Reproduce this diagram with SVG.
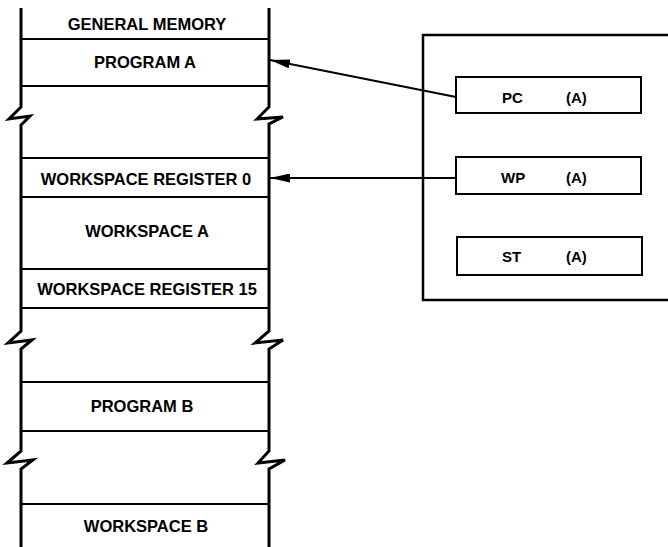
<svg xmlns="http://www.w3.org/2000/svg" width="668" height="547" viewBox="0 0 668 547">
<style>
.col{fill:none;stroke:#000;stroke-width:3;stroke-linejoin:miter}
.hl{stroke:#000;stroke-width:2}
.box{fill:#fff;stroke:#000;stroke-width:2}
.frame{fill:none;stroke:#000;stroke-width:2.5}
.t{font-family:"Liberation Sans",Arial,sans-serif;font-weight:bold;font-size:16.5px;fill:#000;text-anchor:middle}
.r{font-family:"Liberation Sans",Arial,sans-serif;font-weight:bold;font-size:15px;fill:#000}
.conn{stroke:#000;stroke-width:1.8;fill:none}
</style>
<defs>
<marker id="ah" markerUnits="userSpaceOnUse" viewBox="0 0 20 9" markerWidth="20" markerHeight="9" refX="20" refY="4.5" orient="auto">
<path d="M0,0 L20,4.5 L0,9 z" fill="#000"/>
</marker>
</defs>
<rect width="668" height="547" fill="#fff"/>
<g id="memory">
<path class="col" d="M21,8 V107 L9,119 L30,116 L21,125 V331 L8,343 L32,340 L21,349 V451 L7,463 L33,460 L21,469 V547"/>
<path class="col" d="M269,8 V107 L257,119 L283,117 L269,124 V331 L255,343 L283,340 L269,349 V451 L258,463 L285,460 L269,469 V547"/>
<line class="hl" x1="21" y1="39" x2="269" y2="39"/>
<line class="hl" x1="21" y1="86" x2="269" y2="86"/>
<line class="hl" x1="21" y1="158" x2="269" y2="158"/>
<line class="hl" x1="21" y1="197" x2="269" y2="197"/>
<line class="hl" x1="21" y1="269" x2="269" y2="269"/>
<line class="hl" x1="21" y1="308" x2="269" y2="308"/>
<line class="hl" x1="21" y1="382" x2="269" y2="382"/>
<line class="hl" x1="21" y1="431" x2="269" y2="431"/>
<line class="hl" x1="21" y1="504" x2="269" y2="504"/>
<text class="t" x="147" y="30">GENERAL MEMORY</text>
<text class="t" x="145" y="68">PROGRAM A</text>
<text class="t" x="146" y="185">WORKSPACE REGISTER 0</text>
<text class="t" x="147" y="237">WORKSPACE A</text>
<text class="t" x="147" y="295">WORKSPACE REGISTER 15</text>
<text class="t" x="142" y="412">PROGRAM B</text>
<text class="t" x="146" y="532">WORKSPACE B</text>
</g>
<g id="cpu">
<path class="frame" d="M668,35 H423 V300 H668"/>
</g>
<g id="pc">
<rect class="box" x="456" y="77" width="185" height="36"/>
<text class="r" x="502" y="103">PC</text>
<text class="r" x="566" y="103">(A)</text>
</g>
<g id="wp">
<rect class="box" x="456" y="157" width="185" height="37"/>
<text class="r" x="501" y="183">WP</text>
<text class="r" x="566" y="183">(A)</text>
</g>
<g id="st">
<rect class="box" x="457" y="237" width="185" height="38"/>
<text class="r" x="502" y="262">ST</text>
<text class="r" x="566" y="262">(A)</text>
</g>
<g id="connectors">
<line class="conn" x1="456" y1="97" x2="270" y2="60" marker-end="url(#ah)"/>
<line class="conn" x1="456" y1="178" x2="270" y2="178" marker-end="url(#ah)"/>
</g>
</svg>
